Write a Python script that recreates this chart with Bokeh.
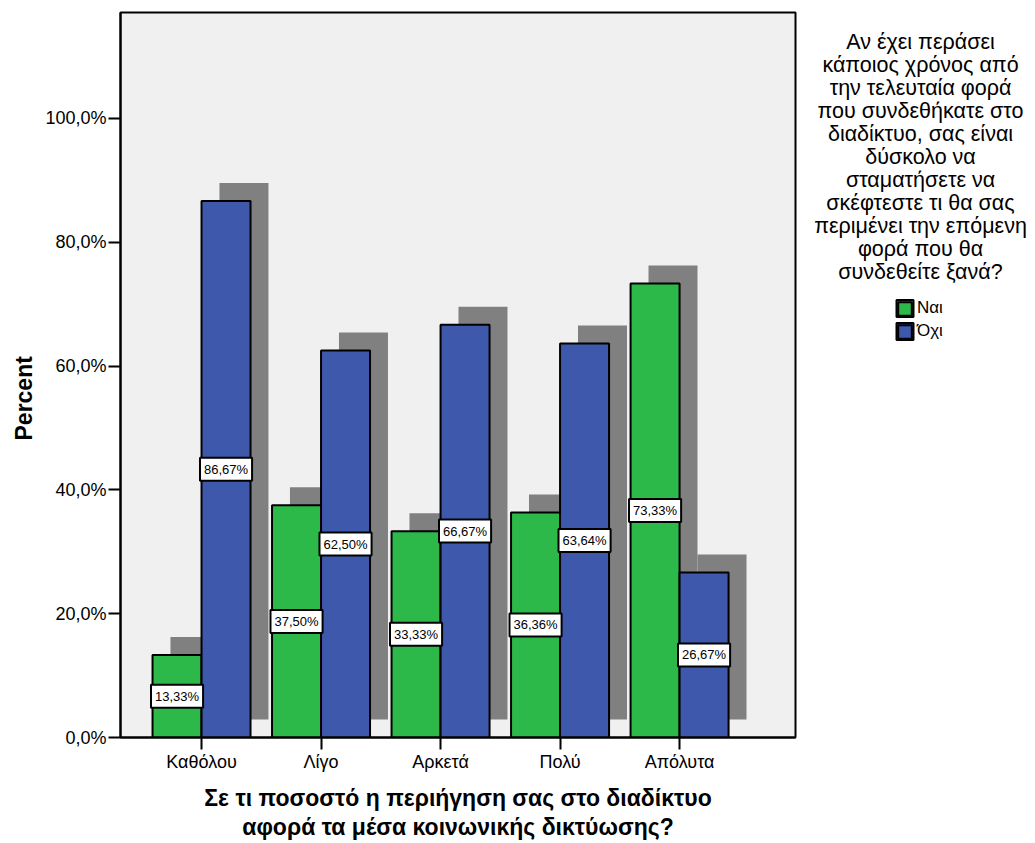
from bokeh.plotting import figure
from bokeh.layouts import row
from bokeh.models import (ColumnDataSource, Range1d, FixedTicker, Legend, LegendItem, Title)
from bokeh.core.properties import value
from bokeh.embed import file_html
from bokeh.resources import INLINE

categories = ["Καθόλου", "Λίγο", "Αρκετά", "Πολύ", "Απόλυτα"]
nai = [13.33, 37.50, 33.33, 36.36, 73.33]
ochi = [86.67, 62.50, 66.67, 63.64, 26.67]
series_names = ["Ναι", "Όχι"]
y_ticks = [0, 20, 40, 60, 80, 100]
y_tick_labels = ["0,0%", "20,0%", "40,0%", "60,0%", "80,0%", "100,0%"]
legend_title = ["Αν έχει περάσει", "κάποιος χρόνος από", "την τελευταία φορά",
                "που συνδεθήκατε στο", "διαδίκτυο, σας είναι", "δύσκολο να",
                "σταματήσετε να", "σκέφτεστε τι θα σας", "περιμένει την επόμενη",
                "φορά που θα", "συνδεθείτε ξανά?"]
x_title = "Σε τι ποσοστό η περιήγηση σας στο διαδίκτυο\nαφορά τα μέσα κοινωνικής δικτύωσης?"
y_title = "Percent"

GREEN = "#2DB84A"
BLUE = "#3E58AB"
SHADOW = "#808080"
FONT = "Liberation Sans"

BW = 0.41        # bar width (category units)
SDX = 0.15       # shadow offset x
SDY = 2.9        # shadow offset y (%)

idx = list(range(len(categories)))
fmt = lambda v: ("%.2f" % v).replace(".", ",") + "%"

src_g = ColumnDataSource(dict(
    x=[i - BW / 2 for i in idx], top=nai,
    sx=[i - BW / 2 + SDX for i in idx], stop=[v + SDY for v in nai],
    ly=[v / 2 for v in nai], lab=[fmt(v) for v in nai]))
src_b = ColumnDataSource(dict(
    x=[i + BW / 2 for i in idx], top=ochi,
    sx=[i + BW / 2 + SDX for i in idx], stop=[v + SDY for v in ochi],
    ly=[v / 2 for v in ochi], lab=[fmt(v) for v in ochi]))

p = figure(width=800, height=843, output_backend="svg", toolbar_location=None,
           x_range=Range1d(-0.678, 4.97), y_range=Range1d(0, 117.1),
           min_border_left=120, min_border_right=5, min_border_top=12, min_border_bottom=106)
p.background_fill_color = "#F0F0F0"
p.border_fill_color = "white"
p.outline_line_color = "black"
p.outline_line_width = 2
p.grid.visible = False

# shadows
for s in (src_g, src_b):
    p.vbar(x="sx", top="stop", bottom=SDY, width=BW, source=s,
           fill_color=SHADOW, line_color=None)

rg = p.vbar(x="x", top="top", bottom=0, width=BW, source=src_g,
            fill_color=GREEN, line_color="black", line_width=2)
rb = p.vbar(x="x", top="top", bottom=0, width=BW, source=src_b,
            fill_color=BLUE, line_color="black", line_width=2)

for s in (src_g, src_b):
    p.text(x="x", y="ly", text="lab", source=s, text_font=value(FONT),
           text_font_size="13px", text_align="center", text_baseline="middle",
           text_color="black", background_fill_color="white",
           border_line_color="black", border_line_width=2, padding=4)

# axes
p.xaxis.ticker = FixedTicker(ticks=idx)
p.xaxis.major_label_overrides = {i: c for i, c in zip(idx, categories)}
p.yaxis.ticker = FixedTicker(ticks=y_ticks)
p.yaxis.major_label_overrides = {t: l for t, l in zip(y_ticks, y_tick_labels)}
for ax in (p.xaxis, p.yaxis):
    ax.axis_line_width = 2
    ax.axis_line_color = "black"
    ax.major_tick_line_width = 2
    ax.major_tick_line_color = "black"
    ax.major_tick_out = 12
    ax.major_tick_in = 0
    ax.minor_tick_line_color = None
    ax.major_label_text_font = FONT
    ax.major_label_text_color = "black"
    ax.major_label_text_font_size = "18px"
    ax.axis_label_text_font = FONT
    ax.axis_label_text_font_style = "bold"
    ax.axis_label_text_color = "black"
    ax.axis_label_text_font_size = "23px"
p.xaxis.major_label_standoff = 2
p.yaxis.major_label_standoff = 2
p.xaxis.axis_label = x_title
p.xaxis.axis_label_standoff = 10
p.xaxis.axis_label_text_line_height = 1.12

# y axis title, placed a little below centre as in the original
p.add_layout(Title(text=y_title, align="left", offset=297, standoff=12,
                   text_font=FONT, text_font_size="23px", text_font_style="bold",
                   text_color="black"), "left")

# right panel: legend title and legend (frame aligned with the chart frame)
p2 = figure(width=235, height=843, output_backend="svg", toolbar_location=None,
            x_range=Range1d(800, 1035), y_range=Range1d(737, 12),
            x_axis_location=None, y_axis_location=None,
            min_border_left=0, min_border_right=0, min_border_top=12,
            min_border_bottom=106, outline_line_color=None)
p2.grid.visible = False
p2.background_fill_color = "white"
p2.border_fill_color = "white"

title_src = ColumnDataSource(dict(x=[920] * len(legend_title),
                                  y=[41 + 23.05 * k for k in range(len(legend_title))],
                                  t=legend_title))
p2.text(x="x", y="y", text="t", source=title_src, text_font=value(FONT),
        text_font_size="21.5px", text_align="center", text_baseline="middle",
        text_color="black")

# legend glyph holders, drawn exactly beneath the legend swatches
dg = p2.vbar(x=[904.5], top=[299.5], bottom=[316.5], width=17,
             fill_color=GREEN, line_color="black", line_width=2)
db = p2.vbar(x=[904.5], top=[322.5], bottom=[339.5], width=17,
             fill_color=BLUE, line_color="black", line_width=2)
legend = Legend(items=[LegendItem(label=series_names[0], renderers=[dg]),
                       LegendItem(label=series_names[1], renderers=[db])],
                location=(96, 396), background_fill_alpha=0, border_line_color=None,
                label_text_font=FONT, label_text_font_size="17px",
                label_text_color="black",
                glyph_width=17, glyph_height=17, label_height=17, spacing=3,
                padding=0, margin=0, label_standoff=4)
p2.add_layout(legend, "center")

open("out.html", "w").write(file_html(row(p, p2), INLINE))
